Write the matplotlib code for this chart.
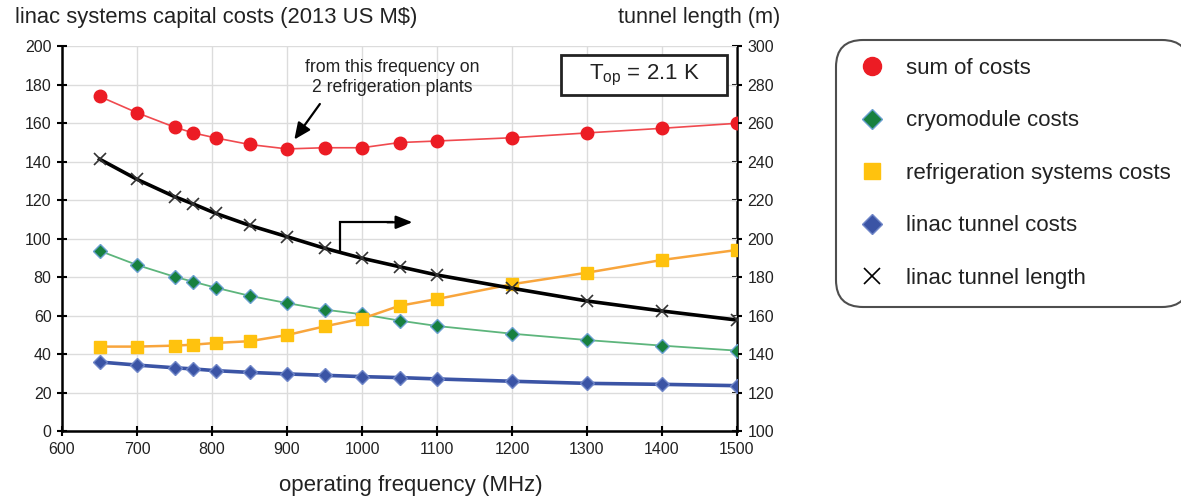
import matplotlib
matplotlib.use("Agg")
import matplotlib.pyplot as plt
from matplotlib.patches import Rectangle
from matplotlib.lines import Line2D

plt.rcParams["font.family"] = ["Liberation Sans", "DejaVu Sans"]

freq = [650, 700, 750, 775, 805, 850, 900, 950, 1000, 1050, 1100, 1200, 1300, 1400, 1500]
sum_costs = [174, 165.5, 158, 155, 152.4, 149, 146.7, 147.3, 147.3, 150, 150.8, 152.5, 155, 157.4, 160]
cryo_costs = [93.8, 86.4, 80.3, 77.7, 74.6, 70.4, 66.6, 63.2, 60.8, 57.5, 54.7, 50.7, 47.4, 44.5, 41.9]
refrig_costs = [44, 44, 44.5, 45, 45.9, 46.8, 50, 54.5, 58.5, 65.2, 68.7, 76.4, 82.4, 89, 94.2]
tunnel_costs = [36, 34.4, 33, 32.4, 31.5, 30.6, 29.8, 29.1, 28.4, 27.9, 27.2, 26, 24.9, 24.4, 23.7]
tunnel_length = [241.4, 230.9, 221.9, 218.1, 213.2, 207, 201.1, 195.1, 189.9, 185.5, 181.2, 174.3, 167.7, 162.5, 157.8]
xticks = list(range(600, 1501, 100))
yticks_left = list(range(0, 201, 20))
yticks_right = list(range(100, 301, 20))

TXT = "#222222"

fig = plt.figure(figsize=(11.81, 4.99), dpi=100)
ax = fig.add_axes([62/1181, 1-431.3/499, (737-62)/1181, (431.3-46.3)/499])
ax2 = ax.twinx()
ax.set_zorder(ax2.get_zorder() + 1)
ax.patch.set_visible(False)

ax.set_xlim(600, 1500)
ax.set_ylim(0, 200)
ax2.set_ylim(100, 300)
ax.set_xticks(xticks)
ax.set_yticks(yticks_left)
ax2.set_yticks(yticks_right)
ax.grid(True, color="#dcdcdc", linewidth=1)
ax.set_axisbelow(True)

for a in (ax, ax2):
    for s in a.spines.values():
        s.set_linewidth(1.8)
    a.spines["top"].set_visible(False)
ax.spines["right"].set_visible(False)
ax2.spines["left"].set_visible(False)
ax2.spines["bottom"].set_visible(False)

ax.tick_params(axis="both", direction="inout", length=7, width=1.5, colors="black",
               labelcolor=TXT, labelsize=11.5, pad=4)
ax2.tick_params(axis="y", direction="inout", length=7, width=1.5, labelcolor=TXT,
                labelsize=11.5, pad=4)

# series
ax.plot(freq, tunnel_costs, color="#3b54a5", lw=2.6, marker="D", ms=7.5,
        mfc="#3b54a5", mec="#6f86c8", mew=1, zorder=3, label="linac tunnel costs")
ax.plot(freq, cryo_costs, color="#5db57c", lw=1.3, marker="D", ms=7.5,
        mfc="#17803f", mec="#6aa0d0", mew=1, zorder=4, label="cryomodule costs")
ax.plot(freq, refrig_costs, color="#f8a53c", lw=1.8, marker="s", ms=8.5,
        mfc="#ffc20e", mec="#ffc20e", zorder=5, label="refrigeration systems costs")
ax.plot(freq, [t - 100 for t in tunnel_length], color="black", lw=2.6,
        marker="x", ms=9, mew=1.2, mec="#333333", zorder=6, label="linac tunnel length")
ax.plot(freq, sum_costs, color="#f04a4f", lw=1.2, marker="o", ms=9,
        mfc="#ec1c24", mec="#ec1c24", zorder=7, label="sum of costs")

# annotations
ax.text(1040.5, 189.2, "from this frequency on", ha="center", va="center", fontsize=12.7,
        color=TXT)
ax.text(1040.5, 178.6, "2 refrigeration plants", ha="center", va="center", fontsize=12.7,
        color=TXT)
ax.annotate("", xy=(907.6, 150.4), xytext=(946, 171.2),
            arrowprops=dict(arrowstyle="-|>,head_length=1.0,head_width=0.45", color="black", lw=1.6),
            zorder=8)
ax.plot([970.7, 970.7, 1040], [93.8, 108.6, 108.6], color="black", lw=1.6, zorder=8,
        solid_joinstyle="miter")
ax.annotate("", xy=(1071, 108.6), xytext=(1030, 108.6),
            arrowprops=dict(arrowstyle="-|>,head_length=1.0,head_width=0.4", color="black", lw=1.6),
            zorder=8)

ax.add_patch(Rectangle((1265.3, 174.5), 221.3, 20.8, fill=True, facecolor="white",
                       edgecolor="#222222", lw=2, zorder=9))
ax.text(1376.0, 184.6, r"T$_{\mathregular{op}}$ = 2.1 K", ha="center", va="center",
        fontsize=16, zorder=10, color=TXT)

# axis titles
fig.text(15/1181, 1-17/499, "linac systems capital costs (2013 US M$)", ha="left", va="center",
         fontsize=15.8, color=TXT)
fig.text(780/1181, 1-17/499, "tunnel length (m)", ha="right", va="center",
         fontsize=15.6, color=TXT)
fig.text(411/1181, 1-485/499, "operating frequency (MHz)", ha="center", va="center",
         fontsize=16, color=TXT)

# legend
h, l = ax.get_legend_handles_labels()
order = ["sum of costs", "cryomodule costs", "refrigeration systems costs",
         "linac tunnel costs", "linac tunnel length"]
hm = {lab: hh for hh, lab in zip(h, l)}
leg_ms = {"sum of costs": 13, "cryomodule costs": 10, "refrigeration systems costs": 12,
          "linac tunnel costs": 10, "linac tunnel length": 11}
handles = []
for lab in order:
    src = hm[lab]
    handles.append(Line2D([], [], linestyle="none", marker=src.get_marker(),
                          ms=leg_ms[lab], mfc=src.get_mfc(),
                          mec=src.get_mec() if lab != "linac tunnel length" else "black",
                          mew=src.get_mew()))
leg = fig.legend(handles, order, loc="upper left", bbox_to_anchor=(836/1181, 1-40/499),
                 frameon=True, fancybox=True, fontsize=16, labelspacing=1.42,
                 handlelength=1.64, handletextpad=0.71, borderpad=0.8, borderaxespad=0)
for t in leg.get_texts():
    t.set_color(TXT)
fr = leg.get_frame()
fr.set_edgecolor("#222222")
fr.set_linewidth(1.5)
fr.set_boxstyle("round,pad=0,rounding_size=1.2")

fig.savefig("out.png", dpi=100)
